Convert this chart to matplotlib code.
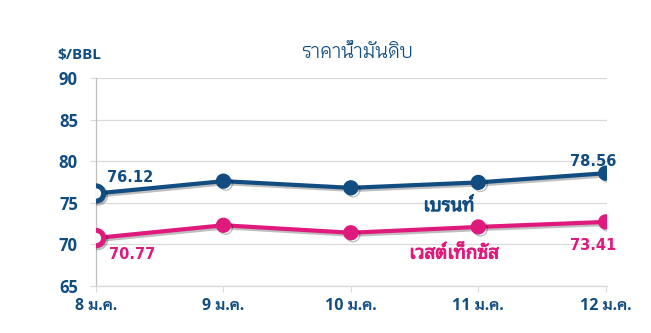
import matplotlib
matplotlib.use('Agg')
import matplotlib.pyplot as plt
import matplotlib.patheffects as pe

# ---- data ----
days = ['8 ม.ค.', '9 ม.ค.', '10 ม.ค.', '11 ม.ค.', '12 ม.ค.']
brent = [76.12, 77.6, 76.8, 77.45, 78.56]
wti = [70.77, 72.3, 71.4, 72.1, 72.7]
brent_name = 'เบรนท์'
wti_name = 'เวสต์เท็กซัส'
wti_last_label = '73.41'
yticks = [65, 70, 75, 80, 85, 90]

NAVY = '#114D80'
PINK = '#E0197D'
GRID = '#D9D9D9'

NUM_FONT = ['DejaVu Sans', 'Sarabun']
THAI_FONT = ['Open Sans', 'Sarabun']
NAME_FONT = ['Noto Sans', 'Noto Sans Thai Looped']

fig = plt.figure(figsize=(6.51, 3.33), dpi=100)
ax = fig.add_axes([96 / 651, 1 - 286 / 333, 511 / 651, 208 / 333])

x = list(range(len(days)))
shadow = [pe.SimpleLineShadow(offset=(1.5, -1.5), alpha=0.25, shadow_color='k'), pe.Normal()]

for vals, col in [(brent, NAVY), (wti, PINK)]:
    ax.plot(x, vals, color=col, lw=3, marker='o', ms=10, mfc=col, mec=col,
            zorder=3, path_effects=shadow, solid_capstyle='round')
    # first point drawn as open circle
    ax.plot(x[0], vals[0], marker='o', ms=11, mfc='white', mec=col, mew=3.6,
            zorder=4, path_effects=shadow)

# value labels
ax.text(0.09, 78.1, f'{brent[0]:.2f}', color=NAVY, fontsize=10.5, fontweight='bold',
        family=NUM_FONT, ha='left', va='center')
ax.text(4.08, 79.95, f'{brent[-1]:.2f}', color=NAVY, fontsize=10.5, fontweight='bold',
        family=NUM_FONT, ha='right', va='center')
ax.text(0.1, 68.8, f'{wti[0]:.2f}', color=PINK, fontsize=10.5, fontweight='bold',
        family=NUM_FONT, ha='left', va='center')
ax.text(4.08, 69.9, wti_last_label, color=PINK, fontsize=10.5, fontweight='bold',
        family=NUM_FONT, ha='right', va='center')

# series names (thin stroke to fake bold weight)
for name, xx, yy, col in [(brent_name, 2.77, 74.6, NAVY), (wti_name, 2.81, 68.9, PINK)]:
    ax.text(xx, yy, name, color=col, fontsize=13.5, family=NAME_FONT,
            ha='center', va='center',
            path_effects=[pe.withStroke(linewidth=0.7, foreground=col)])

ax.set_xlim(0, 4.01)
ax.set_ylim(65, 90)
ax.set_yticks(yticks)
ax.set_xticks(x)
ax.set_xticklabels(days, family=THAI_FONT, fontweight='bold', fontsize=11.5, color=NAVY)
ax.set_yticklabels([str(v) for v in yticks], family=['Open Sans'], fontweight='bold',
                   fontsize=12, color=NAVY)
ax.tick_params(axis='y', length=4, color=GRID, pad=9)
ax.tick_params(axis='x', length=4, color=GRID, pad=5)

ax.grid(axis='y', color=GRID, lw=0.9)
ax.set_axisbelow(True)
for s in ['top', 'right']:
    ax.spines[s].set_visible(False)
ax.spines['left'].set_color('#BFBFBF')
ax.spines['bottom'].set_color(GRID)
ax.spines['left'].set_linewidth(0.9)
ax.spines['bottom'].set_linewidth(0.9)

fig.text(57 / 651, 1 - 55 / 333, '$/BBL', color=NAVY, fontsize=11, fontweight='bold',
         family=['Open Sans'], ha='left', va='center')
fig.text(357 / 651, 1 - 53 / 333, 'ราคาน้ำมันดิบ', color=NAVY, fontsize=14,
         family=['Krub'], ha='center', va='center')

fig.savefig('out.png', dpi=100)
